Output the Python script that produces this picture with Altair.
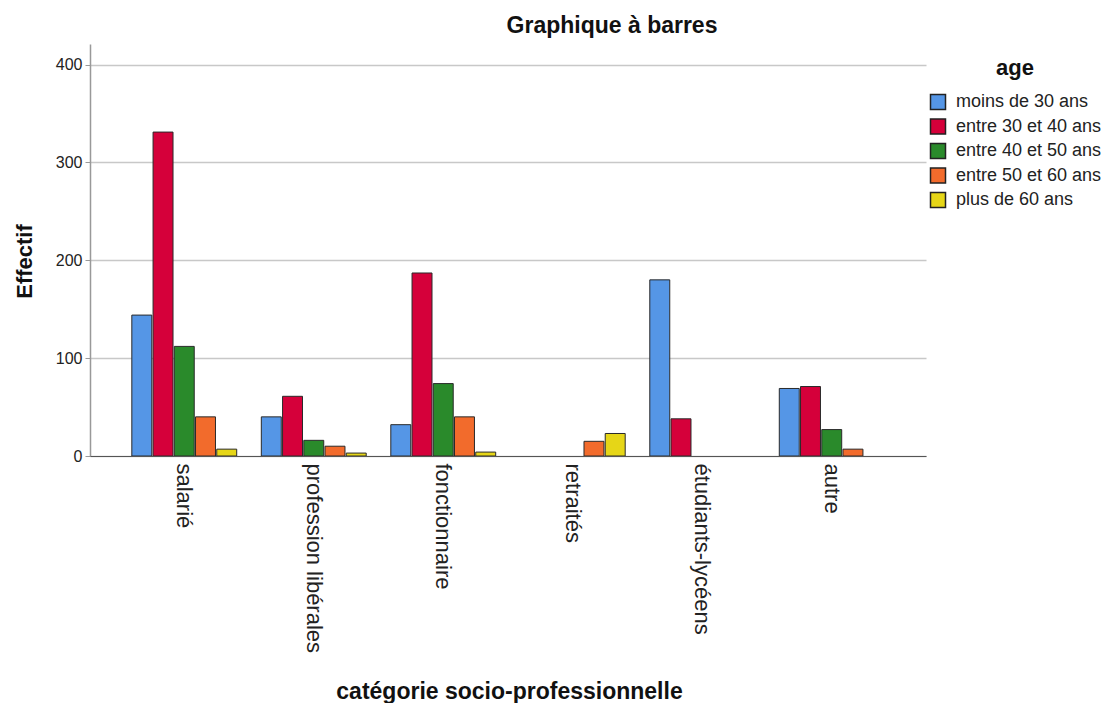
import altair as alt
import pandas as pd

categories = ["salarié", "profession libérales", "fonctionnaire", "retraités", "étudiants-lycéens", "autre"]
ages = ["moins de 30 ans", "entre 30 et 40 ans", "entre 40 et 50 ans", "entre 50 et 60 ans", "plus de 60 ans"]
colors = ["#5596E6", "#D5003A", "#2A8A2B", "#F26B2C", "#E6D617"]

moins_30 = [144, 40, 32, 0, 180, 69]
entre_30_40 = [331, 61, 187, 0, 38, 71]
entre_40_50 = [112, 16, 74, 0, 0, 27]
entre_50_60 = [40, 10, 40, 15, 0, 7]
plus_60 = [7, 3, 4, 23, 0, 0]

series = [moins_30, entre_30_40, entre_40_50, entre_50_60, plus_60]
rows = []
for age, vals in zip(ages, series):
    for cat, v in zip(categories, vals):
        if v > 0:
            rows.append({"cat": cat, "age": age, "n": v})
df = pd.DataFrame(rows)

FONT = "Liberation Sans"

chart = alt.Chart(df).mark_bar(stroke="#2a2a2a", strokeWidth=1).encode(
    x=alt.X("cat:N", sort=categories,
            scale=alt.Scale(domain=categories, paddingInner=0.19, paddingOuter=0.323),
            axis=alt.Axis(title="catégorie socio-professionnelle", labelAngle=90,
                          labelAlign="left", labelBaseline="middle", labelPadding=7,
                          labelFontSize=22, labelColor="#222", ticks=False, labelLimit=400,
                          domainColor="#555", domainWidth=1.2, zindex=1,
                          titleFontSize=23, titleFontWeight="bold", titleColor="#111",
                          titleX=419, titleY=242, titleBaseline="alphabetic")),
    xOffset=alt.XOffset("age:N", sort=ages, scale=alt.Scale(domain=ages, paddingInner=0.06)),
    y=alt.Y("n:Q", scale=alt.Scale(domain=[0, 421], nice=False),
            axis=alt.Axis(title="Effectif", values=[0, 100, 200, 300, 400],
                          labelFontSize=16, labelColor="#222", labelPadding=3,
                          tickSize=5, tickColor="#999", domainColor="#999", domainWidth=1.5,
                          gridColor="#c8c8c8", gridWidth=1.5,
                          titleFontSize=22, titleFontWeight="bold", titleColor="#111",
                          titleX=-66, titleY=217, titleAngle=-90, titleBaseline="middle",
                          titleAlign="center")),
    color=alt.Color("age:N", sort=ages, scale=alt.Scale(domain=ages, range=colors),
                    legend=alt.Legend(title="age", orient="none", legendX=839, legendY=14,
                                      symbolType="square", symbolSize=225,
                                      symbolStrokeColor="#222", symbolStrokeWidth=1.5,
                                      labelFontSize=18, labelColor="#222", labelOffset=9,
                                      rowPadding=2.5, titleFontSize=22, titleFontWeight="bold",
                                      titleColor="#111", titleAnchor="middle", titleAlign="center",
                                      titlePadding=13)),
).properties(
    width=836, height=412,
    title=alt.TitleParams("Graphique à barres", fontSize=23, fontWeight="bold", color="#111",
                          anchor="middle", frame="group", dx=104, offset=6, font=FONT),
    autosize=alt.AutoSizeParams(type="none"),
    padding={"left": 82, "top": 36, "right": 175, "bottom": 247},
).configure(font=FONT, background="white").configure_view(stroke=None).configure_axis(
    labelFont=FONT, titleFont=FONT).configure_legend(labelFont=FONT, titleFont=FONT)

chart.save("out.html", embed_options={"renderer": "svg", "actions": False})
